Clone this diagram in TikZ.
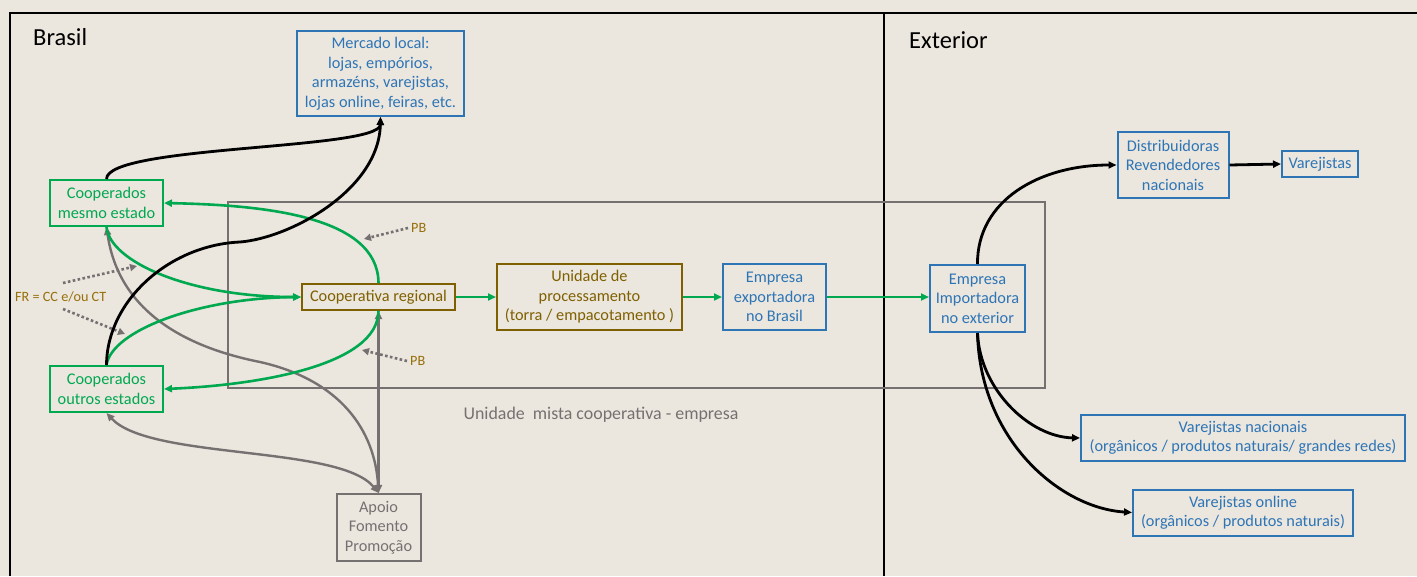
\documentclass[tikz,border=0pt]{standalone}
\usepackage{fontspec}
\setmainfont{Carlito}
\usetikzlibrary{arrows.meta}
\definecolor{paper}{RGB}{235,230,222}
\definecolor{cgreen}{RGB}{0,168,80}
\definecolor{cblue}{RGB}{46,117,182}
\definecolor{cbrown}{RGB}{127,96,0}
\definecolor{cgold}{RGB}{150,112,10}
\definecolor{cgray}{RGB}{118,113,113}
\begin{document}
\begin{tikzpicture}[x=1pt,y=-1pt,
  font=\fontsize{16.3}{19.5}\selectfont,
  box/.style={draw, line width=2pt, align=center, inner sep=0pt},
  bluebox/.style={box, draw=cblue, text=cblue},
  greenbox/.style={box, draw=cgreen, text=cgreen},
  brownbox/.style={box, draw=cbrown, text=cbrown},
  graybox/.style={box, draw=cgray, text=cgray},
  tip/.style={-{Triangle[length=8pt,width=7pt]}},
  bothtips/.style={{Triangle[length=8pt,width=7pt]}-{Triangle[length=8pt,width=7pt]}},
  greenflow/.style={tip, draw=cgreen, line width=2.6pt},
  blackflow/.style={tip, draw=black, line width=2.8pt},
  grayflow/.style={bothtips, draw=cgray, line width=2.4pt},
  hint/.style={draw=cgray, line width=2.6pt, dash pattern=on 2.6pt off 2.4pt,
    -{Triangle[length=7pt,width=7pt]}},
  note/.style={text=cgold, inner sep=0pt, font=\fontsize{14.2}{17}\selectfont},
  region/.style={font=\fontsize{24.5}{28}\selectfont, text=black, anchor=west, inner sep=0pt}
]
\useasboundingbox (0,0) rectangle (1417,576);
\fill[paper] (0,0) rectangle (1417,576);

% outer frame and the Brasil / Exterior split
\draw[line width=2pt] (10,576) -- (10,13) -- (1417,13);
\draw[line width=2pt] (884,13) -- (884,576);
\node[region] (brasil) at (33,37) {Brasil};
\node[region] (exterior) at (909,40) {Exterior};

% mixed cooperative-company unit
\draw[cgray, line width=2.8pt] (228,202) rectangle (1045,388);
\node[text=cgray, inner sep=0pt, font=\fontsize{17.9}{21}\selectfont] (mista) at (601,415)
  {Unidade\ \ mista cooperativa - empresa};

% nodes
\node[bluebox, minimum width=167, minimum height=85] (mercado) at (380.5,73.5)
  {Mercado local:\\lojas, empórios,\\armazéns, varejistas,\\lojas online, feiras, etc.};
\node[greenbox, minimum width=113, minimum height=46] (mesmo) at (106.5,203)
  {Cooperados\\mesmo estado};
\node[greenbox, minimum width=113, minimum height=46] (outros) at (106.5,389)
  {Cooperados\\outros estados};
\node[brownbox, minimum width=153, minimum height=26] (coop) at (378.5,297)
  {Cooperativa regional};
\node[brownbox, minimum width=185, minimum height=66] (proc) at (589.5,297)
  {Unidade de\\processamento\\(torra / empacotamento )};
\node[bluebox, minimum width=103, minimum height=66] (exp) at (774.5,297)
  {Empresa\\exportadora\\no Brasil};
\node[bluebox, minimum width=95, minimum height=67] (imp) at (977.5,298.5)
  {Empresa\\Importadora\\no exterior};
\node[bluebox, minimum width=111, minimum height=66] (dist) at (1173,165)
  {Distribuidoras\\Revendedores\\nacionais};
\node[bluebox, minimum width=76, minimum height=26] (varej) at (1320,164)
  {Varejistas};
\node[bluebox, minimum width=324, minimum height=46] (vnac) at (1243,438)
  {Varejistas nacionais\\(orgânicos / produtos naturais/ grandes redes)};
\node[bluebox, minimum width=220, minimum height=46] (vonl) at (1243,512.5)
  {Varejistas online\\(orgânicos / produtos naturais)};
\node[graybox, minimum width=84, minimum height=67] (apoio) at (378.5,527.5)
  {Apoio\\Fomento\\Promoção};

% notes
\node[note, anchor=west] (fr) at (15,297) {FR = CC e/ou CT};
\node[note, anchor=west] (pb1) at (411,228) {PB};
\node[note, anchor=west] (pb2) at (410,361) {PB};
\coordinate (fr1) at (137,266);
\coordinate (fr2) at (125,334);
\coordinate (pb1t) at (364,239);
\coordinate (pb2t) at (362,350);
\draw[hint] (63,283) -- (fr1);
\draw[hint] (63,309) -- (fr2);
\draw[hint] ([xshift=-3pt]pb1.west) -- (pb1t);
\draw[hint] ([xshift=-3pt]pb2.west) -- (pb2t);

% support links
\draw[grayflow] (apoio.north) -- (coop.south);
\draw[grayflow] (apoio.north) .. controls (375,430) and (340,380) .. (260,362)
  .. controls (200,350) and (120,320) .. (mesmo.south);
\draw[grayflow] (apoio.north) .. controls (340,445) and (150,460) .. (outros.south);

% flows of the members
\draw[greenflow] (coop.north) .. controls (378,215) and (260,205) .. (mesmo.east);
\draw[greenflow] (mesmo.south) .. controls (110,262) and (190,297) .. (coop.west);
\draw[greenflow] (outros.north) .. controls (112,330) and (200,298) .. (coop.west);
\draw[greenflow] (coop.south) .. controls (378,365) and (260,385) .. (outros.east);

% product chain
\draw[greenflow] (coop.east) -- (proc.west);
\draw[greenflow] (proc.east) -- (exp.west);
\draw[greenflow] (exp.east) -- (imp.west |- exp.east);

% local market
\draw[blackflow] (mesmo.north) .. controls (107,145) and (380,150) .. (mercado.south);
\draw[blackflow] (outros.north) .. controls (107,300) and (170,245) .. (240,242)
  .. controls (290,238) and (379,190) .. (mercado.south);

% foreign market
\draw[blackflow] (imp.north) .. controls (977,200) and (1040,165) .. (dist.west);
\draw[blackflow] (dist.east) -- (varej.west);
\draw[blackflow] (imp.south) .. controls (980,390) and (1030,437) .. (vnac.west);
\draw[blackflow] (imp.south) .. controls (980,440) and (1060,508) .. (vonl.west);
\end{tikzpicture}
\end{document}
